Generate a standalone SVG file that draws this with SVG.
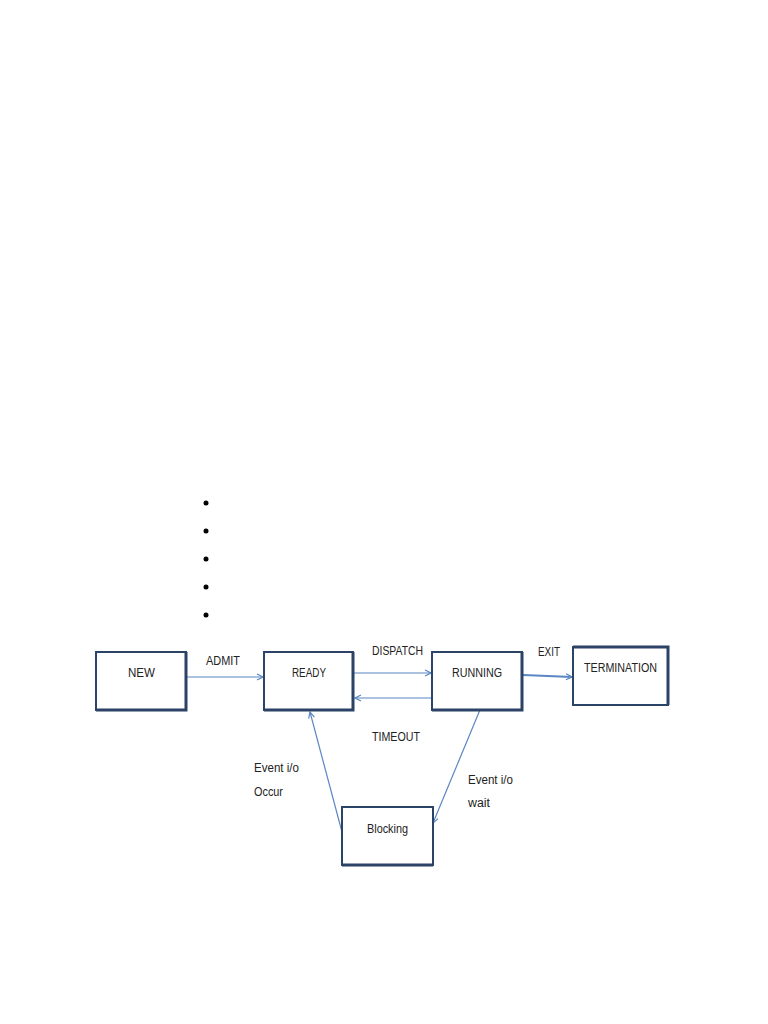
<svg xmlns="http://www.w3.org/2000/svg" width="768" height="1024" viewBox="0 0 768 1024">
<style>
.box{fill:#fff;stroke:#2a4366;stroke-width:2}
.sh{fill:none;stroke:#2a4366;stroke-width:3}
.t{font-family:"Liberation Sans",Arial,sans-serif;font-size:12.5px;fill:#222}
.c{stroke:#5b86c4;stroke-width:1.2;fill:none;marker-end:url(#ah)}
</style>
<defs>
<marker id="ah" markerWidth="8" markerHeight="8" refX="7" refY="4" orient="auto" markerUnits="userSpaceOnUse">
<path d="M1,1 L7,4 L1,7" fill="none" stroke="#5b86c4" stroke-width="1.2"/>
</marker>
</defs>
<rect width="768" height="1024" fill="#fff"/>
<g id="bullets" fill="#000">
<circle cx="206" cy="503" r="2.5"/><circle cx="206" cy="531" r="2.5"/><circle cx="206" cy="559" r="2.5"/><circle cx="206" cy="587" r="2.5"/><circle cx="206" cy="615" r="2.5"/>
</g>
<g id="connectors">
<line class="c" x1="187" y1="677" x2="263" y2="677"/>
<line class="c" x1="354" y1="673" x2="431" y2="673"/>
<line class="c" x1="432" y1="698" x2="355" y2="698"/>
<line class="c" x1="523" y1="675" x2="572" y2="677" style="stroke-width:2"/>
<line class="c" x1="482" y1="705" x2="433" y2="823"/>
<line class="c" x1="342" y1="832" x2="310" y2="712"/>
<text class="t" x="206" y="665" textLength="34" lengthAdjust="spacingAndGlyphs">ADMIT</text>
<text class="t" x="372" y="655" textLength="51" lengthAdjust="spacingAndGlyphs">DISPATCH</text>
<text class="t" x="372" y="741" textLength="48" lengthAdjust="spacingAndGlyphs">TIMEOUT</text>
<text class="t" x="538" y="656" textLength="22" lengthAdjust="spacingAndGlyphs">EXIT</text>
<text class="t" x="254" y="772" textLength="45" lengthAdjust="spacingAndGlyphs">Event i/o</text>
<text class="t" x="254" y="796" textLength="29" lengthAdjust="spacingAndGlyphs">Occur</text>
<text class="t" x="468" y="784" textLength="45" lengthAdjust="spacingAndGlyphs">Event i/o</text>
<text class="t" x="468" y="807" textLength="22" lengthAdjust="spacingAndGlyphs">wait</text>
</g>
<g id="new">
<rect class="box" x="96" y="652" width="90" height="58"/>
<path class="sh" d="M96,710 H186 V652"/>
<text class="t" x="128" y="677" textLength="27" lengthAdjust="spacingAndGlyphs">NEW</text>
</g>
<g id="ready">
<rect class="box" x="264" y="652" width="89" height="58"/>
<path class="sh" d="M264,710 H353 V652"/>
<text class="t" x="292" y="677" textLength="34" lengthAdjust="spacingAndGlyphs">READY</text>
</g>
<g id="running">
<rect class="box" x="432" y="652" width="90" height="58"/>
<path class="sh" d="M432,710 H522 V652"/>
<text class="t" x="452" y="677" textLength="50" lengthAdjust="spacingAndGlyphs">RUNNING</text>
</g>
<g id="termination">
<rect class="box" x="573" y="647" width="95" height="58"/>
<path class="sh" d="M573,647 H668 V705"/>
<text class="t" x="584" y="672" textLength="73" lengthAdjust="spacingAndGlyphs">TERMINATION</text>
</g>
<g id="blocking">
<rect class="box" x="342" y="807" width="91" height="58"/>
<path class="sh" d="M342,865 H433"/>
<text class="t" x="367" y="833" textLength="41" lengthAdjust="spacingAndGlyphs">Blocking</text>
</g>
</svg>
